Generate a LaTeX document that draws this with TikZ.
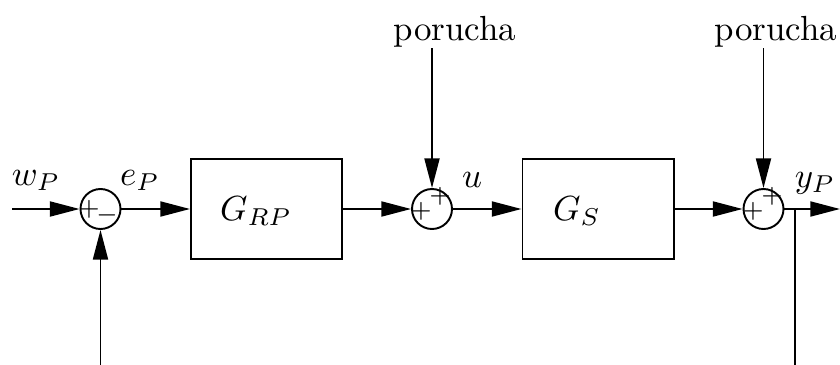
\documentclass[tikz,border=0pt]{standalone}
\usetikzlibrary{arrows.meta}
\begin{document}
\begin{tikzpicture}[x=0.2866pt,y=-0.2866pt,
  line width=0.55pt,
  arr/.style={-{Triangle[length=8.5pt,width=4.3pt]}},
  sumnode/.style={draw,circle,minimum size=11.46pt,inner sep=0pt},
  blk/.style={draw,minimum width=43.3pt,minimum height=28.7pt,inner sep=0pt},
  lbl/.style={anchor=base,inner sep=0pt},
  sgn/.style={inner sep=0pt,font=\scriptsize}]
\useasboundingbox (0,0) rectangle (840,365);
% nodes
\coordinate (in) at (12,209);
\node[sumnode] (s1) at (100.5,209) {};
\node[blk] (b1) at (266.5,209) {};
\node[sumnode] (s2) at (432,209) {};
\node[blk] (b2) at (598,209) {};
\node[sumnode] (s3) at (763.5,209) {};
\coordinate (out) at (840,209);
\coordinate (br) at (795,209);
\coordinate (brb) at (795,365);
\coordinate (fb) at (100.5,365);
\coordinate (d1) at (432,48);
\coordinate (d2) at (763.5,48);
% labels
\node[lbl] (lw) at (36,185) {$w_P$};
\node[lbl] (le) at (140,185) {$e_P$};
\node[lbl] (lu) at (472,187) {$u$};
\node[lbl] (ly) at (815,187) {$y_P$};
\node[lbl] (g1) at (256,220) {$G_{RP}$};
\node[lbl] (g2) at (577,220) {$G_{S}$};
\node[lbl] (p1) at (455,40) {porucha};
\node[lbl] (p2) at (776,40) {porucha};
% signs
\node[sgn] (s1a) at (89,209) {$+$};
\node[sgn] (s1b) at (107,215) {$-$};
\node[sgn] (s2a) at (421,211) {$+$};
\node[sgn] (s2b) at (440,196) {$+$};
\node[sgn] (s3a) at (753,211) {$+$};
\node[sgn] (s3b) at (772,196) {$+$};
% connectors
\draw[arr] (in) -- (s1.west);
\draw[arr] (s1.east) -- (b1.west);
\draw[arr] (b1.east) -- (s2.west);
\draw[arr] (s2.east) -- (b2.west);
\draw[arr] (b2.east) -- (s3.west);
\draw[arr] (s3.east) -- (out);
\draw (br) -- (brb);
\draw[arr] (fb) -- (s1.south);
\draw[arr] (d1) -- (s2.north);
\draw[arr] (d2) -- (s3.north);
\end{tikzpicture}
\end{document}
